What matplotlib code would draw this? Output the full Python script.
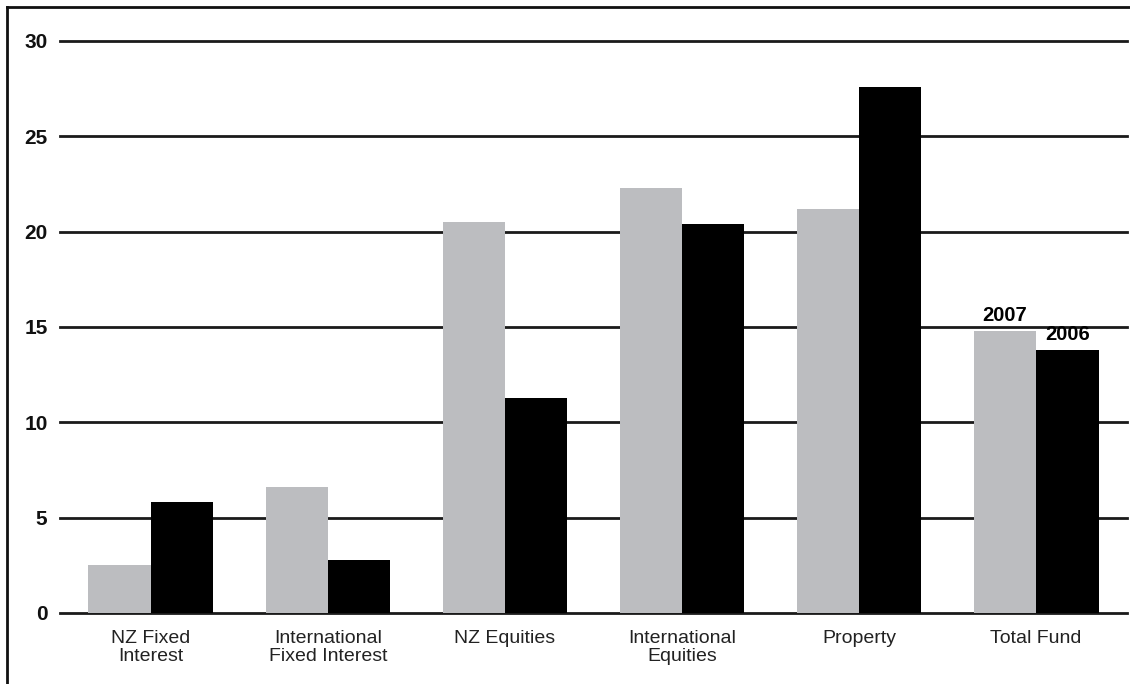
import matplotlib.pyplot as plt
from matplotlib.lines import Line2D
import numpy as np

categories = ["NZ Fixed\nInterest", "International\nFixed Interest", "NZ Equities",
              "International\nEquities", "Property", "Total Fund"]
values_2007 = [2.5, 6.6, 20.5, 22.3, 21.2, 14.8]
values_2006 = [5.8, 2.8, 11.3, 20.4, 27.6, 13.8]
yticks = [0, 5, 10, 15, 20, 25, 30]

gray = "#bcbdc0"
black = "#000000"
bold_font = ["Liberation Sans Narrow", "Liberation Sans", "DejaVu Sans"]

fig = plt.figure(figsize=(11.3, 6.84), dpi=100)
ax = fig.add_axes([60 / 1130, 1 - 613 / 684, (1127 - 60) / 1130, (613 - 41) / 684])

x = np.arange(len(categories))
w = 0.353
ax.bar(x - w / 2, values_2007, w, color=gray, zorder=3)
ax.bar(x + w / 2, values_2006, w, color=black, zorder=3)

# horizontal gridlines behind the bars
for t in yticks:
    ax.axhline(t, color="#1a1a1a", lw=2.0, zorder=1, clip_on=False)

ax.set_xlim(-0.514, 5.514)
ax.set_ylim(0, 30)
for s in ax.spines.values():
    s.set_visible(False)
ax.tick_params(length=0)
ax.set_yticks(yticks)
ax.set_yticklabels([str(t) for t in yticks], family=bold_font, fontweight="bold",
                   fontsize=15, color="#111111")
ax.tick_params(axis="y", pad=9)
ax.set_xticks(x)
ax.set_xticklabels(categories, family=["Liberation Sans", "DejaVu Sans"],
                   fontsize=14, color="#222222", linespacing=1.08)
ax.tick_params(axis="x", pad=12)

# year labels over the last group
last = len(categories) - 1
ax.text(last - w / 2, values_2007[last] + 0.3, "2007", ha="center", va="bottom",
        family=bold_font, fontweight="bold", fontsize=14.5)
ax.text(last + w / 2, values_2006[last] + 0.3, "2006", ha="center", va="bottom",
        family=bold_font, fontweight="bold", fontsize=14.5)

# frame around the chart (only top and left edges are inside the image)
fig.add_artist(Line2D([7 / 1130, 1.0], [1 - 7 / 684, 1 - 7 / 684], color="#111111", lw=2))
fig.add_artist(Line2D([7 / 1130, 7 / 1130], [0, 1 - 7 / 684], color="#111111", lw=2))

fig.savefig("out.png", dpi=100)
